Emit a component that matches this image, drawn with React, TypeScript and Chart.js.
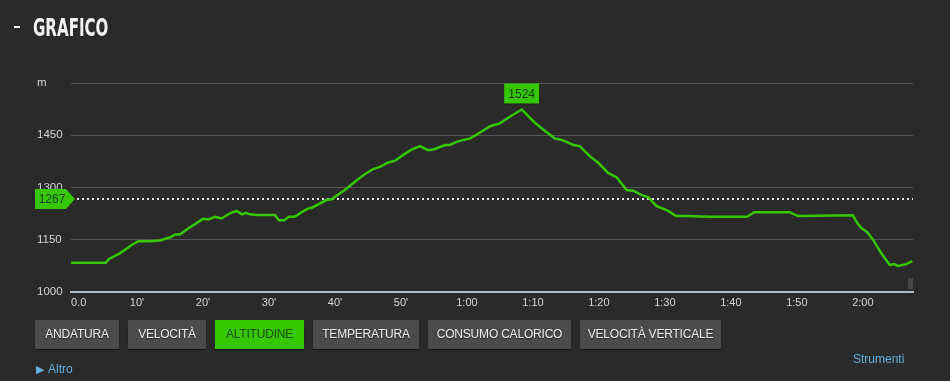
import React, { useEffect, useRef } from 'react';
import { Chart, registerables } from 'chart.js';

Chart.register(...registerables);

// elapsed time (minutes)
const minutes = [
  0, 5.3, 5.7, 7.4, 9.2, 10.2, 12.0, 13.5, 15.0, 15.8, 16.5, 17.8, 18.8, 20.0, 20.8, 21.8, 22.8, 24.1,
  25.1, 25.9, 26.5, 27.1, 28.1, 30.9, 31.5, 32.3, 33.0, 33.9, 35.2, 36.0, 36.5, 38.7, 39.5, 40.5, 41.5,
  43.3, 44.5, 45.8, 46.8, 48.1, 49.1, 50.3, 51.6, 52.9, 54.1, 54.9, 56.7, 57.4, 58.4, 59.4, 60.5, 61.5,
  63.5, 65.0, 66.5, 68.3, 70.3, 71.8, 73.3, 74.1, 75.1, 76.1, 77.1, 78.6, 79.9, 81.4, 82.7, 84.2, 85.2,
  86.5, 87.5, 88.7, 90.5, 91.7, 93.3, 96.8, 98.8, 102.4, 103.6, 108.9, 110.2, 118.5, 119.0, 119.8, 120.6,
  121.6, 122.8, 124.1, 124.7, 125.3, 126.6, 127.5,
];
// altitude (m)
const altitude = [
  1084, 1084, 1094, 1111, 1135, 1146, 1146, 1148, 1157, 1165, 1165, 1183, 1195, 1210, 1208, 1216, 1211, 1226,
  1233, 1223, 1227, 1223, 1221, 1221, 1206, 1206, 1216, 1216, 1232, 1240, 1242, 1264, 1266, 1280, 1293,
  1321, 1338, 1353, 1359, 1372, 1377, 1393, 1409, 1419, 1407, 1409, 1422, 1422, 1431, 1436, 1441, 1452,
  1476, 1484, 1503, 1524, 1486, 1463, 1441, 1438, 1431, 1422, 1419, 1390, 1371, 1342, 1329, 1293, 1291,
  1278, 1272, 1247, 1233, 1218, 1218, 1216, 1216, 1216, 1229, 1229, 1218, 1220, 1202, 1183, 1173,
  1149, 1111, 1077, 1080, 1075, 1080, 1089,
];
const totalMinutes = 127.6;
const averageAltitude = 1267;

const xTickValues = [0, 10, 20, 30, 40, 50, 60, 70, 80, 90, 100, 110, 120];
const xTickLabels = ['0.0', "10'", "20'", "30'", "40'", "50'", '1:00', '1:10', '1:20', '1:30', '1:40', '1:50', '2:00'];
const yTickValues = [1000, 1150, 1300, 1450, 1600];
const yTickLabels = ['1000', '1150', '1300', '1450', 'm'];

const tabs = ['ANDATURA', 'VELOCITÀ', 'ALTITUDINE', 'TEMPERATURA', 'CONSUMO CALORICO', 'VELOCITÀ VERTICALE'];
const activeTab = 'ALTITUDINE';

const GREEN = '#35c800';
const BG = '#2a2a2a';

const markerPlugin = {
  id: 'markers',
  beforeDatasetsDraw(chart: any) {
    const { ctx, chartArea, scales } = chart;
    const y = Math.round(scales.y.getPixelForValue(averageAltitude));
    ctx.save();
    ctx.strokeStyle = '#e6e6e6';
    ctx.lineWidth = 2;
    ctx.setLineDash([2, 3]);
    ctx.beginPath();
    ctx.moveTo(chartArea.left + 6, y);
    ctx.lineTo(chartArea.right, y);
    ctx.stroke();
    ctx.restore();
  },
  afterDatasetsDraw(chart: any) {
    const { ctx, chartArea, scales } = chart;
    ctx.save();
    // average marker (left)
    const y = Math.round(scales.y.getPixelForValue(averageAltitude));
    const tip = chartArea.left + 4;
    const left = chartArea.left - 36;
    ctx.fillStyle = GREEN;
    ctx.beginPath();
    ctx.moveTo(left, y - 10);
    ctx.lineTo(tip - 9, y - 10);
    ctx.lineTo(tip, y);
    ctx.lineTo(tip - 9, y + 10);
    ctx.lineTo(left, y + 10);
    ctx.closePath();
    ctx.fill();
    ctx.fillStyle = '#173a05';
    ctx.font = '12px "Liberation Sans", Arial, sans-serif';
    ctx.textAlign = 'center';
    ctx.textBaseline = 'middle';
    ctx.fillText(String(averageAltitude), (left + tip - 6) / 2, y + 1);

    // peak marker
    let maxI = 0;
    altitude.forEach((v, i) => { if (v > altitude[maxI]) maxI = i; });
    const px = scales.x.getPixelForValue(minutes[maxI]);
    const py = scales.y.getPixelForValue(altitude[maxI]);
    const w = 35, h = 20;
    ctx.fillStyle = 'rgba(0,0,0,0.35)';
    ctx.fillRect(px - w / 2 + 1, py - 6 - h + 1, w, h);
    ctx.fillStyle = GREEN;
    ctx.fillRect(px - w / 2, py - 6 - h, w, h);
    ctx.fillStyle = '#173a05';
    ctx.fillText(String(altitude[maxI]), px, py - 6 - h / 2 + 1);
    ctx.restore();
  },
};

function AltitudeChart() {
  const ref = useRef<HTMLCanvasElement>(null);
  useEffect(() => {
    if (!ref.current) return;
    const points = minutes.map((m, i) => ({ x: m, y: altitude[i] }));
    const chart = new Chart(ref.current, {
      type: 'line',
      data: {
        datasets: [
          {
            data: points,
            borderColor: GREEN,
            borderWidth: 2.5,
            pointRadius: 0,
            tension: 0,
            fill: false,
          },
        ],
      },
      options: {
        responsive: false,
        animation: false,
        events: [],
        layout: { padding: { left: 37, top: 83, right: 37, bottom: 69 } },
        plugins: { legend: { display: false }, tooltip: { enabled: false } },
        scales: {
          x: {
            type: 'linear',
            min: 0,
            max: totalMinutes,
            afterBuildTicks: (s: any) => {
              s.ticks = xTickValues.map((v) => ({ value: v }));
            },
            afterFit: (s: any) => {
              s.height = 20;
            },
            grid: { display: false, drawTicks: false },
            border: { display: true, color: '#aebac6', width: 2 },
            ticks: {
              padding: 4,
              maxRotation: 0,
              autoSkip: false,
              color: '#d6d6d6',
              font: { family: '"Liberation Sans", Arial, sans-serif', size: 11 },
              callback: (v: any) => {
                const i = xTickValues.indexOf(Number(v));
                const label = i >= 0 ? xTickLabels[i] : '';
                return i === 0 ? '     ' + label : label;
              },
            },
          },
          y: {
            type: 'linear',
            min: 1000,
            max: 1600,
            afterBuildTicks: (s: any) => {
              s.ticks = yTickValues.map((v) => ({ value: v }));
            },
            afterFit: (s: any) => {
              s.width = 34;
            },
            grid: { color: '#555555', lineWidth: 1, drawTicks: false },
            border: { display: false },
            ticks: {
              crossAlign: 'far',
              padding: 8,
              color: '#d6d6d6',
              font: { family: '"Liberation Sans", Arial, sans-serif', size: 11.5 },
              callback: (v: any) => {
                const i = yTickValues.indexOf(Number(v));
                return i >= 0 ? yTickLabels[i] : '';
              },
            },
          },
        },
      },
      plugins: [markerPlugin],
    });
    return () => chart.destroy();
  }, []);
  return (
    <canvas
      ref={ref}
      width={950}
      height={381}
      style={{ position: 'absolute', left: 0, top: 0, width: 950, height: 381 }}
    />
  );
}

const tabWidths = [84, 78, 89, 106, 143, 141];

export default function App() {
  return (
    <div
      style={{
        position: 'fixed',
        left: 0,
        top: 0,
        width: 950,
        height: 381,
        background: BG,
        overflow: 'hidden',
        fontFamily: '"Liberation Sans", Arial, sans-serif',
      }}
    >
      <AltitudeChart />
      <div style={{ position: 'absolute', left: 14, top: 26, width: 6, height: 2, background: '#f2f2f2' }} />
      <div
        style={{
          position: 'absolute',
          left: 33,
          top: 13,
          color: '#f2f2f2',
          fontFamily: '"DejaVu Sans Condensed", "Liberation Sans Narrow", sans-serif',
          fontWeight: 700,
          fontSize: 25,
          lineHeight: '30px',
          whiteSpace: 'nowrap',
          transform: 'scaleX(0.67)',
          transformOrigin: 'left center',
        }}
      >
        GRAFICO
      </div>
      <div style={{ position: 'absolute', left: 35, top: 320, display: 'flex', gap: 9 }}>
        {tabs.map((t, i) => {
          const active = t === activeTab;
          return (
            <div
              key={t}
              style={{
                width: tabWidths[i],
                height: 29,
                boxSizing: 'border-box',
                background: active ? GREEN : '#4b4b4b',
                color: active ? '#1c4a06' : '#f0f0f0',
                fontSize: 12,
                letterSpacing: -0.2,
                lineHeight: '29px',
                textAlign: 'center',
                boxShadow: '0 1px 1px rgba(0,0,0,0.5)',
                textShadow: active ? 'none' : '0 1px 1px rgba(0,0,0,0.6)',
                whiteSpace: 'nowrap',
              }}
            >
              {t}
            </div>
          );
        })}
      </div>
      <div style={{ position: 'absolute', left: 36, top: 362, color: '#62b2e6', fontSize: 12, whiteSpace: 'nowrap' }}>
        <span style={{ fontSize: 11, marginRight: 4 }}>▶</span>Altro
      </div>
      <div style={{ position: 'absolute', left: 853, top: 352, color: '#62b2e6', fontSize: 12, whiteSpace: 'nowrap' }}>
        Strumenti
      </div>
      <div style={{ position: 'absolute', left: 908, top: 278, width: 5, height: 11, background: '#474747' }} />
    </div>
  );
}
